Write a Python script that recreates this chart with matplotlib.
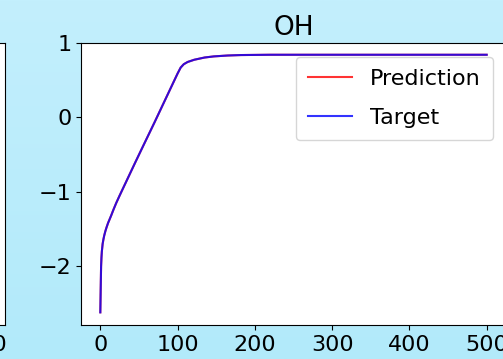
import numpy as np
import matplotlib
matplotlib.use("Agg")
import matplotlib.pyplot as plt

# Values
steps = [0, 0.5, 1, 1.5, 2, 3, 4, 5, 6.5, 8, 10, 12, 14, 17, 20.6, 25, 30,
         45, 57, 70, 85, 95, 100, 104, 108, 113, 121.6, 135, 147, 165, 182,
         220, 300, 400, 500]
target = [-2.62, -2.3, -2.0, -1.88, -1.8, -1.70, -1.64, -1.59, -1.53, -1.48,
          -1.42, -1.37, -1.32, -1.24, -1.15, -1.05, -0.94, -0.61, -0.35,
          -0.07, 0.26, 0.48, 0.59, 0.67, 0.715, 0.745, 0.775, 0.805, 0.82,
          0.832, 0.838, 0.842, 0.842, 0.842, 0.842]
prediction = [-2.62, -2.3, -2.0, -1.88, -1.8, -1.70, -1.64, -1.59, -1.53, -1.48,
              -1.42, -1.37, -1.32, -1.24, -1.15, -1.05, -0.94, -0.61, -0.35,
              -0.07, 0.26, 0.48, 0.59, 0.67, 0.715, 0.745, 0.775, 0.805, 0.82,
              0.832, 0.838, 0.842, 0.842, 0.842, 0.842]
title = "OH"
xticks = [0, 100, 200, 300, 400, 500]
yticks = [-2, -1, 0, 1]

W, H = 503, 359
fig = plt.figure(figsize=(W / 100, H / 100), dpi=100)

# gradient background
bg = fig.add_axes([0, 0, 1, 1], zorder=-10)
top = np.array([0xc3, 0xef, 0xfd]) / 255
bot = np.array([0xb2, 0xea, 0xfa]) / 255
t = np.linspace(0, 1, 256)[:, None]
grad = (top[None, :] * (1 - t) + bot[None, :] * t)[:, None, :]
bg.imshow(grad, aspect="auto", extent=[0, 1, 0, 1])
bg.set_axis_off()

def px_axes(left, right, top_, bottom):
    return [left / W, (H - bottom) / H, (right - left) / W, (bottom - top_) / H]

fs = 16

# partial neighbouring axes on the left (only its right edge is visible)
axl = fig.add_axes(px_axes(5 - 425, 5, 43, 325))
axl.plot(steps, target, color="b", alpha=0)
axl.set_xticks([500])
axl.set_yticks(yticks)
axl.set_yticklabels([])
axl.tick_params(labelsize=fs)
axl.set_xlim(-25, 525)
axl.set_ylim(-2.79, 1.0)

ax = fig.add_axes(px_axes(81, 506, 43, 325))
ax.plot(steps, prediction, color="r", alpha=0.8, lw=1.5, label="Prediction")
ax.plot(steps, target, color="b", alpha=0.8, lw=1.5, label="Target")
ax.set_xticks(xticks)
ax.set_yticks(yticks)
ax.set_xlim(-25, 525)
ax.set_ylim(-2.79, 1.0)
ax.tick_params(labelsize=fs)
ax.set_title(title, fontsize=19)
ax.legend(fontsize=fs, loc="upper right", borderaxespad=0,
          labelspacing=0.85, borderpad=0.55,
          bbox_to_anchor=(493 / W, (H - 57) / H), bbox_transform=fig.transFigure)

fig.savefig("out.png", dpi=100)
